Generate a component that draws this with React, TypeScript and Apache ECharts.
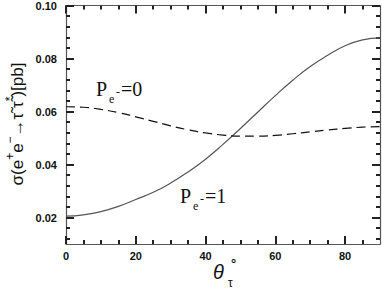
import React, { useEffect, useRef } from "react";
import * as echarts from "echarts";

const thetaDeg = [0, 5, 10, 15, 20, 25, 30, 35, 40, 45, 50, 55, 60, 65, 70, 75, 80, 85, 90];
const sigmaPol1 = [0.0205, 0.021, 0.0222, 0.0242, 0.0268, 0.0295, 0.033, 0.0372, 0.042, 0.0476, 0.0536, 0.0598, 0.066, 0.0718, 0.077, 0.0812, 0.0848, 0.087, 0.0878];
const sigmaPol0 = [0.0618, 0.0616, 0.0608, 0.0596, 0.058, 0.0563, 0.0546, 0.0531, 0.0519, 0.0511, 0.0507, 0.0507, 0.051, 0.0516, 0.0523, 0.053, 0.0536, 0.0541, 0.0543];
const xMajor = [0, 20, 40, 60, 80];
const xMinor = [5, 10, 15, 25, 30, 35, 45, 50, 55, 65, 70, 75, 85];
const yMajor = [0.02, 0.04, 0.06, 0.08, 0.1];
const yMinor = [0.012, 0.016, 0.024, 0.028, 0.032, 0.036, 0.044, 0.048, 0.052, 0.056, 0.064, 0.068, 0.072, 0.076, 0.084, 0.088, 0.092, 0.096];

const AX = "#222";
const TW = 2;

function xAx(pos: "bottom" | "top", ticks: number[], len: number, labels: boolean, line: boolean) {
  return {
    type: "value", position: pos, min: 0, max: 90, gridIndex: 0,
    axisLine: { show: line, onZero: false, lineStyle: { color: "#555", width: 1.2 } },
    axisTick: { show: true, inside: true, length: len, customValues: ticks, lineStyle: { color: AX, width: TW } },
    axisLabel: labels
      ? { show: true, customValues: ticks, margin: 6, fontSize: 11, fontWeight: "bold", color: "#111", fontFamily: "Liberation Sans" }
      : { show: false },
    splitLine: { show: false },
  };
}
function yAx(pos: "left" | "right", ticks: number[], len: number, labels: boolean, line: boolean) {
  return {
    type: "value", position: pos, min: 0.01, max: 0.1, gridIndex: 0,
    axisLine: { show: line, onZero: false, lineStyle: { color: "#555", width: 1.2 } },
    axisTick: { show: true, inside: true, length: len, customValues: ticks, lineStyle: { color: AX, width: TW } },
    axisLabel: labels
      ? { show: true, customValues: ticks, margin: 9, fontSize: 11, fontWeight: "bold", color: "#111", fontFamily: "Liberation Sans", formatter: (v: number) => v.toFixed(2) }
      : { show: false },
    splitLine: { show: false },
  };
}

export default function App() {
  const ref = useRef<HTMLDivElement>(null);
  useEffect(() => {
    const chart = echarts.init(ref.current!, undefined, { renderer: "svg" });
    const serif = "Liberation Serif";
    const sans = "Liberation Sans";
    chart.setOption({
      animation: false,
      backgroundColor: "#fff",
      grid: { left: 66, right: 2, top: 4, bottom: 49 },
      xAxis: [
        xAx("bottom", xMajor, 8, true, true),
        xAx("bottom", xMinor, 4, false, false),
        xAx("top", xMajor, 8, false, true),
        xAx("top", xMinor, 4, false, false),
      ],
      yAxis: [
        yAx("left", yMajor, 8, true, true),
        yAx("left", yMinor, 4, false, false),
        yAx("right", yMajor, 8, false, true),
        yAx("right", yMinor, 4, false, false),
      ],
      series: [
        {
          type: "line", xAxisIndex: 0, yAxisIndex: 0, smooth: true, showSymbol: false,
          data: thetaDeg.map((t, i) => [t, sigmaPol1[i]]),
          lineStyle: { color: "#555", width: 1.2 },
        },
        {
          type: "line", xAxisIndex: 0, yAxisIndex: 0, smooth: true, showSymbol: false,
          data: thetaDeg.map((t, i) => [t, sigmaPol0[i]]),
          lineStyle: { color: "#111", width: 1.2, type: [9, 5] },
        },
      ],
      graphic: [
        {
          type: "text", x: 15, y: 124, rotation: Math.PI / 2,
          style: {
            text: "{n|σ(e}{s|+}{n|e}{s|−}{n|→τ̃ τ̃}{s|*}{n|)[pb]}",
            align: "center", verticalAlign: "middle",
            rich: {
              n: { fontSize: 17, fontFamily: sans, fill: "#111", lineHeight: 22, verticalAlign: "bottom" },
              s: { fontSize: 12, fontFamily: sans, fill: "#111", lineHeight: 22, verticalAlign: "top" },
            },
          },
        },
        { type: "text", x: 213, y: 262, style: { text: "θ", fontSize: 20, fontStyle: "italic", fontFamily: sans, fill: "#111" } },
        { type: "text", x: 228, y: 277, style: { text: "τ", fontSize: 12, fontFamily: sans, fill: "#111" } },
        { type: "text", x: 231, y: 257, style: { text: "°", fontSize: 13, fontWeight: "bold", fontFamily: sans, fill: "#111" } },
        { type: "text", x: 96, y: 79, style: { text: "P", fontSize: 20, fontFamily: serif, fill: "#111" } },
        { type: "text", x: 109, y: 93, style: { text: "e", fontSize: 12, fontFamily: serif, fill: "#111" } },
        { type: "text", x: 116, y: 86, style: { text: "-", fontSize: 12, fontFamily: serif, fill: "#111" } },
        { type: "text", x: 121, y: 79, style: { text: "=0", fontSize: 20, fontFamily: serif, fill: "#111" } },
        { type: "text", x: 180, y: 186, style: { text: "P", fontSize: 20, fontFamily: serif, fill: "#111" } },
        { type: "text", x: 193, y: 200, style: { text: "e", fontSize: 12, fontFamily: serif, fill: "#111" } },
        { type: "text", x: 200, y: 193, style: { text: "-", fontSize: 12, fontFamily: serif, fill: "#111" } },
        { type: "text", x: 205, y: 186, style: { text: "=1", fontSize: 20, fontFamily: serif, fill: "#111" } },
      ],
    });
    return () => chart.dispose();
  }, []);
  return <div ref={ref} style={{ width: 382, height: 293, position: "absolute", left: 0, top: 0 }} />;
}
